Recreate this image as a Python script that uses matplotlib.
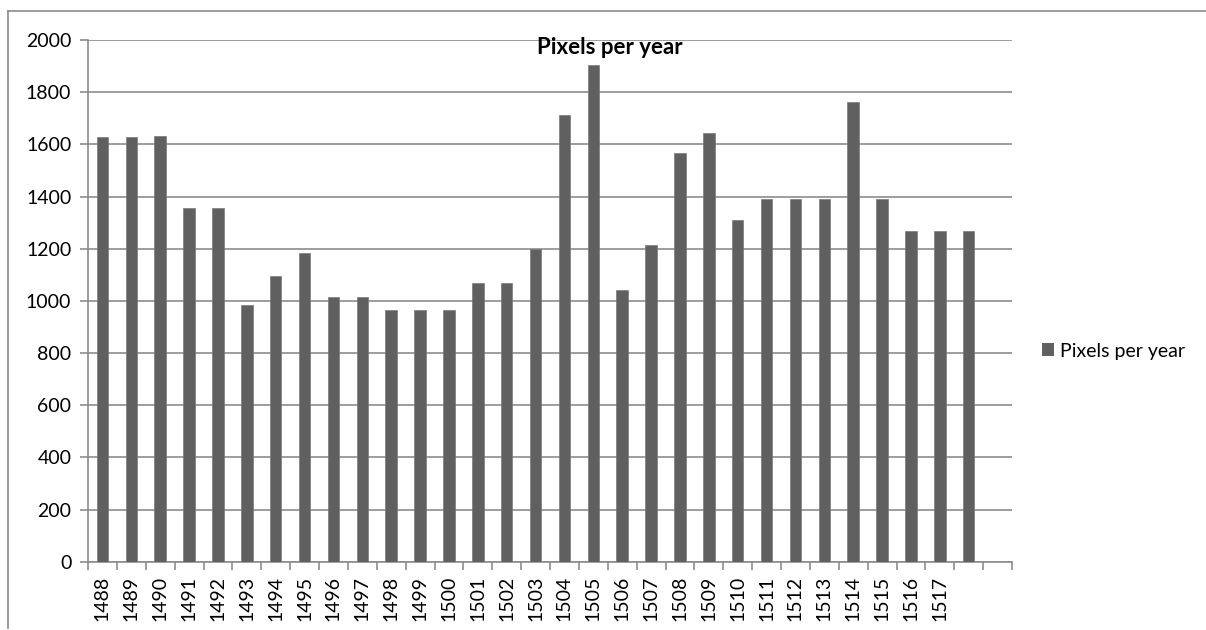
import matplotlib
matplotlib.use("Agg")
import matplotlib.pyplot as plt
import numpy as np
from matplotlib.lines import Line2D
from matplotlib.patches import Patch

plt.rcParams['font.family'] = ['Lato', 'DejaVu Sans']

years = ['1488', '1489', '1490', '1491', '1492', '1493', '1494', '1495', '1496', '1497',
         '1498', '1499', '1500', '1501', '1502', '1503', '1504', '1505', '1506', '1507',
         '1508', '1509', '1510', '1511', '1512', '1513', '1514', '1515', '1516', '1517',
         '', '']
pixels = [1629, 1629, 1631, 1356, 1356, 983, 1095, 1184, 1014, 1014,
          966, 966, 966, 1070, 1070, 1200, 1714, 1905, 1042, 1216,
          1568, 1643, 1310, 1391, 1391, 1391, 1761, 1391, 1268, 1268,
          1268, np.nan]
series_name = 'Pixels per year'
yticks = [0, 200, 400, 600, 800, 1000, 1200, 1400, 1600, 1800, 2000]

W, H = 1206, 630
fig = plt.figure(figsize=(W / 100, H / 100), dpi=100)
ax = fig.add_axes([88 / W, 1 - 561.7 / H, (1012 - 88) / W, (561.7 - 40) / H])

grid_col = '#8c8c8c'
bar_col = '#606060'
x = np.arange(len(years))
ax.bar(x, pixels, width=0.4, color=bar_col, edgecolor='#7a7a7a', linewidth=0.5, zorder=3)

ax.set_xlim(-0.5, len(years) - 0.5)
ax.set_ylim(0, 2000)
ax.set_yticks(yticks)
ax.set_yticklabels([str(v) for v in yticks], fontsize=14)
ax.yaxis.grid(True, color=grid_col, linewidth=1.2, zorder=0)
ax.set_axisbelow(True)

ax.set_xticks(x)
ax.set_xticklabels(years, rotation=90, fontsize=14)
ax.set_xticks(np.arange(len(years) + 1) - 0.5, minor=True)
ax.tick_params(axis='x', which='major', length=0, pad=10)
ax.tick_params(axis='x', which='minor', length=6, width=1.2, color=grid_col)
ax.tick_params(axis='y', length=6, width=1.2, color=grid_col, pad=6)

for s in ['top', 'right']:
    ax.spines[s].set_visible(False)
for s in ['left', 'bottom']:
    ax.spines[s].set_color(grid_col)
    ax.spines[s].set_linewidth(1.2)

fig.text(610 / W, 1 - 48 / H, series_name, ha='center', va='center',
         fontsize=16, fontweight='bold')

handle = Patch(facecolor=bar_col, edgecolor='none')
fig.legend([handle], [series_name], loc='center left',
           bbox_to_anchor=(1042 / W, 1 - 351 / H), frameon=False, borderpad=0,
           borderaxespad=0, fontsize=14, handlelength=0.6, handleheight=0.6,
           handletextpad=0.3)

border_col = '#8a8a8a'
fig.add_artist(Line2D([8 / W, 1.0], [1 - 11 / H, 1 - 11 / H], transform=fig.transFigure,
                      color=border_col, linewidth=1.2))
fig.add_artist(Line2D([8 / W, 8 / W], [1 - 11 / H, 1 - 628 / H], transform=fig.transFigure,
                      color=border_col, linewidth=1.2))

fig.savefig('out.png', dpi=100)
